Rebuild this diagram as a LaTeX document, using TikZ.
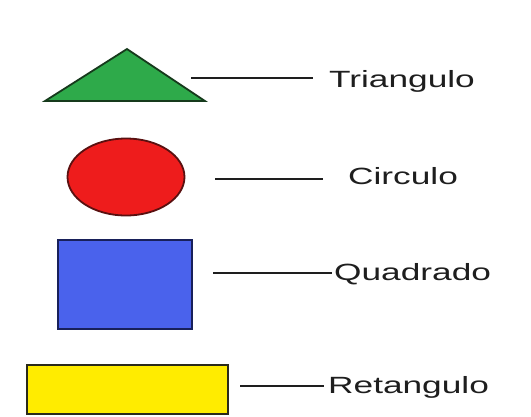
\documentclass[tikz,border=0pt]{standalone}
\usepackage{fontspec}
\setmainfont{Liberation Sans}
\definecolor{trifill}{HTML}{2EAA4A}
\definecolor{tridraw}{HTML}{163A1C}
\definecolor{circfill}{HTML}{EE1C1C}
\definecolor{circdraw}{HTML}{5A1010}
\definecolor{quadfill}{HTML}{4A62EC}
\definecolor{quaddraw}{HTML}{18205A}
\definecolor{retfill}{HTML}{FFEC00}
\definecolor{retdraw}{HTML}{2A2A1A}
\definecolor{txt}{HTML}{1E1E1E}
\newcommand{\lbltext}[1]{\scalebox{1.5}[1]{\fontsize{23.5}{28}\selectfont #1}}
\tikzset{
  shapeline/.style={line width=1.8pt, line join=miter},
  leader/.style={line width=1.8pt, draw=txt},
  lbl/.style={anchor=base west, inner sep=0pt, text=txt}
}
\begin{document}
\begin{tikzpicture}[x=1pt,y=-1pt]
\useasboundingbox[fill=white] (0,0) rectangle (531,416);
% shapes
\draw[shapeline, fill=trifill, draw=tridraw] (45,101) -- (205,101) -- (127,49) -- cycle;
\draw[shapeline, fill=circfill, draw=circdraw] (126,177) ellipse [x radius=58.5, y radius=38.5];
\draw[shapeline, fill=quadfill, draw=quaddraw] (58,240) rectangle (192,329);
\draw[shapeline, fill=retfill, draw=retdraw] (27,365) rectangle (228,414);
% labels
\node[lbl] (ltri) at (329,87) {\lbltext{Triangulo}};
\node[lbl] (lcirc) at (348,184) {\lbltext{Circulo}};
\node[lbl] (lquad) at (334,280) {\lbltext{Quadrado}};
\node[lbl] (lret) at (328,393) {\lbltext{Retangulo}};
% leader ends
\coordinate (t1) at (191,78);  \coordinate (t2) at (313,78);
\coordinate (c1) at (215,179); \coordinate (c2) at (323,179);
\coordinate (q1) at (213,273); \coordinate (q2) at (332,273);
\coordinate (r1) at (240,386); \coordinate (r2) at (324,386);
\draw[leader] (t1) -- (t2);
\draw[leader] (c1) -- (c2);
\draw[leader] (q1) -- (q2);
\draw[leader] (r1) -- (r2);
\end{tikzpicture}
\end{document}
